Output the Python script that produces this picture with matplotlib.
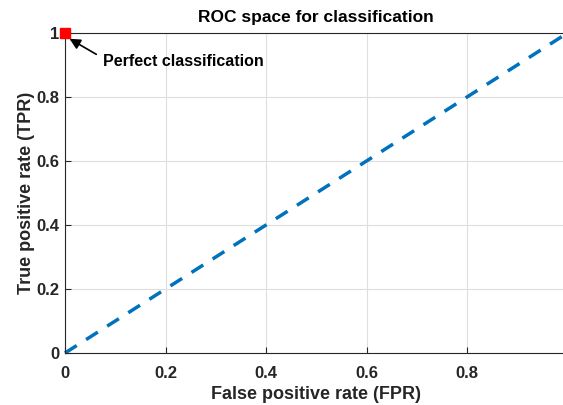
import numpy as np
import matplotlib
matplotlib.use("Agg")
import matplotlib.pyplot as plt

plt.rcParams['font.family'] = ['Liberation Sans', 'DejaVu Sans']
plt.rcParams['font.weight'] = 'bold'

# diagonal (random guess) line
fpr = [0, 1]
tpr = [0, 1]
# perfect classifier point
perfect_x = [0]
perfect_y = [1]
xticks = [0, 0.2, 0.4, 0.6, 0.8]
yticks = [0, 0.2, 0.4, 0.6, 0.8, 1]

fig = plt.figure(figsize=(5.63, 4.05), dpi=100)
ax = fig.add_axes([65 / 563, 52 / 405, 502.5 / 563, 320 / 405])

ax.plot(fpr, tpr, '--', color='#0072BD', linewidth=2.5, dashes=(4, 3.2), clip_on=False)
ax.plot(perfect_x, perfect_y, 's', color='red', markersize=7.5, clip_on=False, zorder=5)
ax.annotate('Perfect classification', xy=(0.009, 0.982), xytext=(0.075, 0.91),
            fontsize=11.5, fontweight='bold', va='center', ha='left',
            arrowprops=dict(arrowstyle='-|>', color='black', lw=1.2, relpos=(0, 0.75),
                            shrinkA=3, shrinkB=0, mutation_scale=16))

ax.set_xlim(0, 1)
ax.set_ylim(0, 1)
ax.set_xticks(xticks)
ax.set_yticks(yticks)
ax.set_xticklabels(['0', '0.2', '0.4', '0.6', '0.8'])
ax.set_yticklabels(['0', '0.2', '0.4', '0.6', '0.8', '1'])
ax.tick_params(direction='in', length=4, width=0.8, labelsize=12, colors='#262626')
ax.tick_params(axis='x', pad=9)
ax.tick_params(axis='y', pad=4)
ax.grid(True, color='#dedede', linewidth=0.8)
ax.set_axisbelow(True)
for s in ax.spines.values():
    s.set_color('#262626')
    s.set_linewidth(0.8)

ax.set_title('ROC space for classification', fontsize=12.5, fontweight='bold', pad=8)
ax.set_xlabel('False positive rate (FPR)', fontsize=13, fontweight='bold', color='#262626', labelpad=4)
ax.set_ylabel('True positive rate (TPR)', fontsize=13, fontweight='bold', color='#262626', labelpad=1)

fig.savefig('out.png', dpi=100)
